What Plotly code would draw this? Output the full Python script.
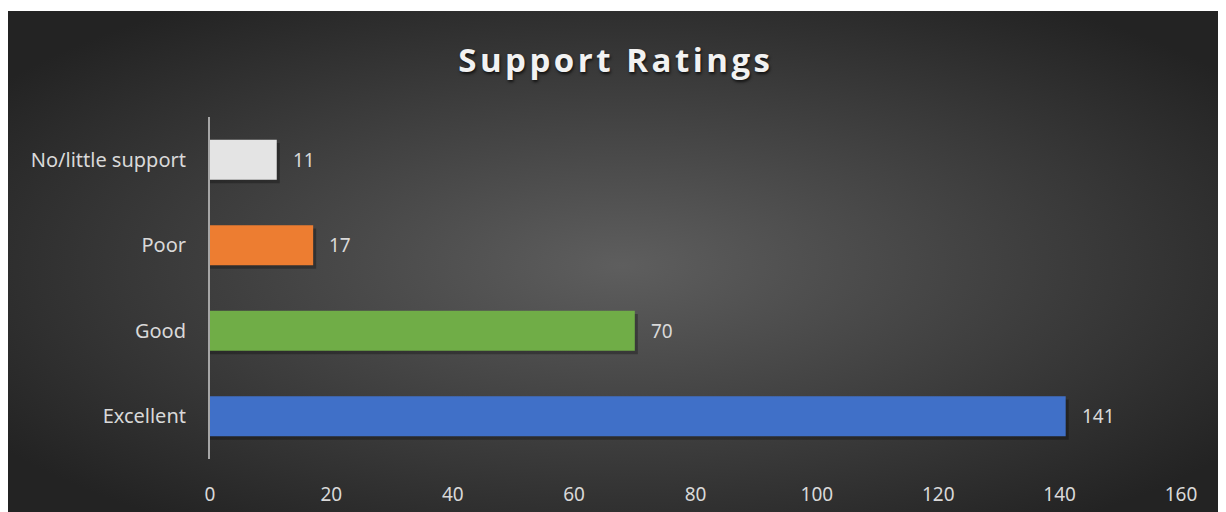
import base64
import plotly.graph_objects as go

# Chart data
categories = ["Excellent", "Good", "Poor", "No/little support"]
ratings = [141, 70, 17, 11]
bar_colors = ["#4070c8", "#70ad47", "#ed7d31", "#e4e4e4"]
x_ticks = [0, 20, 40, 60, 80, 100, 120, 140, 160]

# Dark radial background like the Excel chart style
svg = (
    '<svg xmlns="http://www.w3.org/2000/svg" width="1226" height="509" preserveAspectRatio="none">'
    '<defs><radialGradient id="g" cx="50%" cy="50%" r="62%">'
    '<stop offset="0%" stop-color="#5e5e5e"/>'
    '<stop offset="100%" stop-color="#232323"/>'
    '</radialGradient></defs>'
    '<rect width="1226" height="509" fill="url(#g)"/></svg>'
)
bg_src = "data:image/svg+xml;base64," + base64.b64encode(svg.encode()).decode()

bar_w = 0.47

fig = go.Figure()

# soft drop shadow under each bar
fig.add_trace(go.Bar(
    x=[v + 0.5 for v in ratings],
    y=categories,
    orientation="h",
    width=bar_w,
    offset=-bar_w / 2 - 0.04,
    marker=dict(color="rgba(0,0,0,0.28)", line=dict(width=0)),
    hoverinfo="skip",
))

fig.add_trace(go.Bar(
    x=ratings,
    y=categories,
    orientation="h",
    width=bar_w,
    offset=-bar_w / 2,
    marker=dict(color=bar_colors, line=dict(width=0)),
    hoverinfo="x+y",
))

# Value labels next to the bars
for cat, val in zip(categories, ratings):
    fig.add_annotation(
        x=val, y=cat, text=str(val), showarrow=False,
        xanchor="left", xshift=14,
        font=dict(family="Noto Sans", size=19, color="#d9d9d9"),
    )

# page body has an 8px margin, so everything is placed 8px up/left of the target
fig.update_layout(
    width=1226,
    height=512,
    margin=dict(l=202, r=53, t=109, b=61),
    paper_bgcolor="#242424",
    plot_bgcolor="rgba(0,0,0,0)",
    barmode="overlay",
    showlegend=False,
    title=dict(
        text="<b>Support Ratings</b>",
        x=0.418, xref="paper", xanchor="center",
        y=1 - 52 / 512, yref="container", yanchor="middle",
        font=dict(family="Open Sans", size=33, color="#f2f2f2",
                  shadow="1px 2px 3px rgba(0,0,0,0.7)"),
    ),
    xaxis=dict(
        range=[0, 160],
        tickvals=x_ticks,
        showgrid=False,
        zeroline=False,
        showline=False,
        ticks="",
        ticklabelstandoff=22,
        tickfont=dict(family="Noto Sans", size=19, color="#d9d9d9"),
        fixedrange=True,
    ),
    yaxis=dict(
        categoryorder="array",
        categoryarray=categories,
        showgrid=False,
        showline=True,
        linecolor="#a6a6a6",
        linewidth=2,
        ticks="",
        ticklabelstandoff=18,
        tickfont=dict(family="Noto Sans", size=20, color="#d9d9d9"),
        fixedrange=True,
    ),
    images=[dict(
        source=bg_src, xref="paper", yref="paper",
        x=-202 / 971, y=(451 - 3) / 342,
        sizex=1226 / 971, sizey=(512 - 3) / 342,
        sizing="stretch", xanchor="left", yanchor="top", layer="below",
    )],
    # thin white strip above the chart area
    shapes=[dict(
        type="rect", xref="paper", yref="paper", layer="below",
        x0=-202 / 971, x1=1024 / 971, y0=448 / 342, y1=451 / 342,
        fillcolor="white", line=dict(width=0),
    )],
)

fig.write_html(
    "out.html",
    post_script=(
        "document.documentElement.style.overflow='hidden';"
        "document.body.style.overflow='hidden';"
        "document.querySelectorAll('.gtitle').forEach(function(e){e.style.letterSpacing='3.5px';});"
    ),
)
